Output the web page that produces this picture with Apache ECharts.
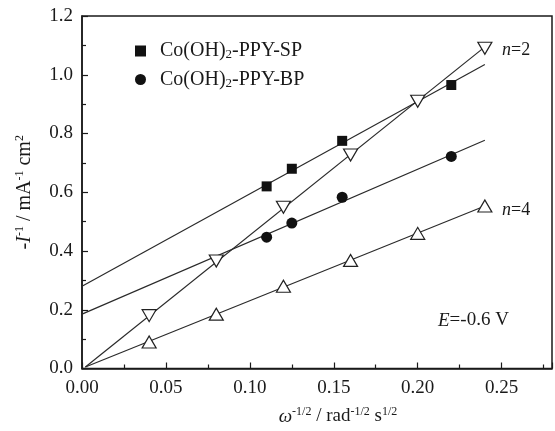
<!DOCTYPE html>
<html>
<head>
<meta charset="utf-8">
<script src="https://cdn.jsdelivr.net/npm/echarts@6/dist/echarts.min.js"></script>
<style>html,body{margin:0;padding:0;background:#fff;}#c{width:555px;height:431px;}</style>
</head>
<body>
<div id="c"></div>
<script>
// ---- data ----
const xElectrode = [0.11, 0.125, 0.155, 0.22];
const ySP = [0.62, 0.68, 0.775, 0.965];
const yBP = [0.447, 0.495, 0.583, 0.722];
const xTheory = [0.04, 0.08, 0.12, 0.16, 0.20, 0.24];
const yN2 = [0.18, 0.366, 0.549, 0.727, 0.91, 1.09];
const yN4 = [0.09, 0.185, 0.28, 0.368, 0.46, 0.553];
const fitX = [0.002, 0.24];
const fitSPx = [0, 0.24];
const fitSP = [0.28, 1.035];
const fitBP = [0.185, 0.777];
const fitN2 = [0.005, 1.095];
const fitN4 = [0.005, 0.553];
const seriesNames = ['Co(OH)2-PPY-SP', 'Co(OH)2-PPY-BP'];

const zip = (xs, ys) => xs.map((x, i) => [x, ys[i]]);
const FONT = '"Liberation Serif", "Times New Roman", serif';
const INK = '#1a1a1a';

const chart = echarts.init(document.getElementById('c'), null, {renderer: 'canvas'});

const lineStyle = {color: '#2a2a2a', width: 1.2};
function fitLine(xs, ys) {
  return {type: 'line', data: zip(xs, ys), symbol: 'none', lineStyle: lineStyle,
          silent: true, z: 2, animation: false};
}

chart.setOption({
  animation: false,
  backgroundColor: '#fff',
  grid: {left: 82, right: 3, top: 16, bottom: 60, show: true,
         borderColor: INK, borderWidth: 1.5, backgroundColor: 'transparent'},
  legend: {
    data: seriesNames,
    orient: 'vertical', left: 130, top: 36,
    itemWidth: 11, itemHeight: 11, itemGap: 8,
    formatter: function (name) {
      const p = name.split('2');
      return '{a|' + p[0] + '}{s|2}{a|' + p[1] + '}';
    },
    textStyle: {
      fontFamily: FONT, fontSize: 20, color: INK, padding: [0, 0, 0, 9],
      rich: {
        a: {fontFamily: FONT, fontSize: 20, color: INK, lineHeight: 21},
        s: {fontFamily: FONT, fontSize: 13, color: INK, lineHeight: 12, verticalAlign: 'bottom'}
      }
    }
  },
  xAxis: {
    type: 'value', min: 0, max: 0.28, interval: 0.05,
    name: '{i|ω}{p|-1/2}{a| / rad}{p|-1/2}{a| s}{p|1/2}',
    nameLocation: 'middle', nameGap: 37,
    nameTextStyle: {
      padding: [0, 0, 0, 42],
      rich: {
        a: {fontFamily: FONT, fontSize: 19, color: INK, lineHeight: 22},
        i: {fontFamily: FONT, fontSize: 19, fontStyle: 'italic', color: INK, lineHeight: 22},
        p: {fontFamily: FONT, fontSize: 12, color: INK, lineHeight: 12, verticalAlign: 'top'}
      }
    },
    axisLine: {show: true, lineStyle: {color: INK, width: 1.5}},
    axisTick: {show: true, inside: true, length: 6, lineStyle: {color: INK, width: 1.2}},
    minorTick: {show: true, splitNumber: 2, length: 4, lineStyle: {color: INK, width: 1.2}},
    splitLine: {show: false},
    axisLabel: {
      fontFamily: FONT, fontSize: 19, color: INK, margin: 10, showMaxLabel: false,
      formatter: v => (v > 0.27 ? '' : v.toFixed(2))
    }
  },
  yAxis: {
    type: 'value', min: 0, max: 1.2, interval: 0.2,
    name: '{a|-}{i|I}{p|-1}{a| / mA}{p|-1}{a| cm}{p|2}',
    nameLocation: 'middle', nameGap: 46, nameRotate: 90,
    nameTextStyle: {
      padding: [0, 0, 0, 0],
      rich: {
        a: {fontFamily: FONT, fontSize: 20, color: INK, lineHeight: 22},
        i: {fontFamily: FONT, fontSize: 20, fontStyle: 'italic', color: INK, lineHeight: 22},
        p: {fontFamily: FONT, fontSize: 12, color: INK, lineHeight: 12, verticalAlign: 'top'}
      }
    },
    axisLine: {show: true, lineStyle: {color: INK, width: 1.5}},
    axisTick: {show: true, inside: true, length: 6, lineStyle: {color: INK, width: 1.2}},
    minorTick: {show: true, splitNumber: 2, length: 4, lineStyle: {color: INK, width: 1.2}},
    splitLine: {show: false},
    axisLabel: {fontFamily: FONT, fontSize: 19, color: INK, margin: 9,
                formatter: v => v.toFixed(1)}
  },
  series: [
    fitLine(fitSPx, fitSP),
    fitLine(fitSPx, fitBP),
    fitLine(fitX, fitN2),
    fitLine(fitX, fitN4),
    {name: seriesNames[0], type: 'scatter', data: zip(xElectrode, ySP),
     symbol: 'rect', symbolSize: 10, itemStyle: {color: '#111', opacity: 1}, z: 5},
    {name: seriesNames[1], type: 'scatter', data: zip(xElectrode, yBP),
     symbol: 'circle', symbolSize: 11, itemStyle: {color: '#111', opacity: 1}, z: 5},
    {name: 'n=2', type: 'scatter', data: zip(xTheory, yN2),
     symbol: 'triangle', symbolRotate: 180, symbolSize: [14, 12],
     itemStyle: {color: '#fff', borderColor: '#222', borderWidth: 1.2, opacity: 1}, z: 5},
    {name: 'n=4', type: 'scatter', data: zip(xTheory, yN4),
     symbol: 'triangle', symbolSize: [14, 12],
     itemStyle: {color: '#fff', borderColor: '#222', borderWidth: 1.2, opacity: 1}, z: 5}
  ],
  graphic: [
    {type: 'text', left: 502, top: 41, z: 10,
     style: {text: '{i|n}{a|=2}', rich: {
       i: {fontFamily: FONT, fontSize: 18, fontStyle: 'italic', fill: INK},
       a: {fontFamily: FONT, fontSize: 18, fill: INK}}}},
    {type: 'text', left: 502, top: 201, z: 10,
     style: {text: '{i|n}{a|=4}', rich: {
       i: {fontFamily: FONT, fontSize: 18, fontStyle: 'italic', fill: INK},
       a: {fontFamily: FONT, fontSize: 18, fill: INK}}}},
    {type: 'text', left: 438, top: 311, z: 10,
     style: {text: '{i|E}{a|=-0.6 V}', rich: {
       i: {fontFamily: FONT, fontSize: 19, fontStyle: 'italic', fill: INK},
       a: {fontFamily: FONT, fontSize: 19, fill: INK}}}}
  ]
});
</script>
</body>
</html>
